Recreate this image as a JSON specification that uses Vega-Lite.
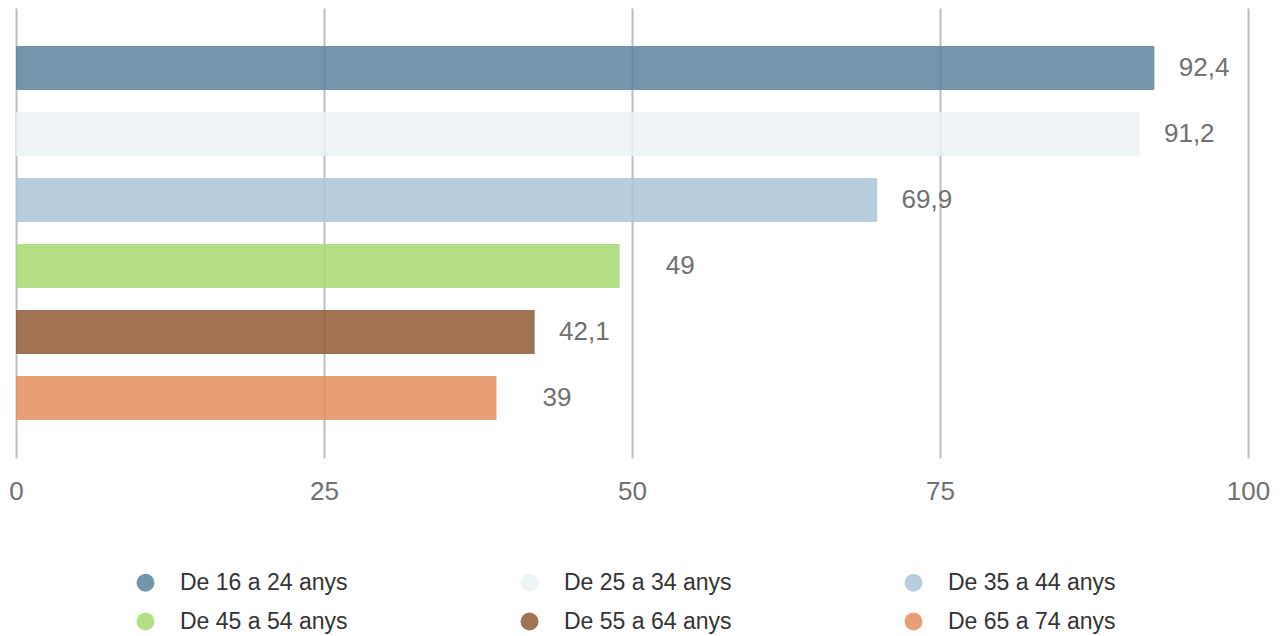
{
  "$schema": "https://vega.github.io/schema/vega-lite/v6.json",
  "width": 1232,
  "height": 450,
  "autosize": {"type": "none"},
  "padding": {"left": 16, "top": 8, "right": 39, "bottom": 178},
  "background": "white",
  "config": {
    "view": {"stroke": null},
    "font": "Liberation Sans"
  },
  "data": {
    "values": [
      {"group": "De 16 a 24 anys", "value": 92.4, "label": "92,4"},
      {"group": "De 25 a 34 anys", "value": 91.2, "label": "91,2"},
      {"group": "De 35 a 44 anys", "value": 69.9, "label": "69,9"},
      {"group": "De 45 a 54 anys", "value": 49, "label": "49"},
      {"group": "De 55 a 64 anys", "value": 42.1, "label": "42,1"},
      {"group": "De 65 a 74 anys", "value": 39, "label": "39"}
    ]
  },
  "encoding": {
    "y": {
      "field": "group",
      "type": "nominal",
      "sort": null,
      "axis": null,
      "scale": {"paddingInner": 0.333, "paddingOuter": 0.576}
    }
  },
  "layer": [
    {
      "mark": {"type": "bar", "opacity": 0.85},
      "encoding": {
        "x": {
          "field": "value",
          "type": "quantitative",
          "scale": {"domain": [0, 100], "nice": false},
          "axis": {
            "values": [0, 25, 50, 75, 100],
            "title": null,
            "domain": false,
            "ticks": false,
            "grid": true,
            "gridColor": "#bdbdc2",
            "gridWidth": 2,
            "gridOpacity": 1,
            "labelFlush": false,
            "labelFontSize": 26,
            "labelColor": "#707070",
            "labelPadding": 20,
            "labelFont": "Liberation Sans"
          }
        },
        "color": {
          "field": "group",
          "type": "nominal",
          "scale": {
            "domain": ["De 16 a 24 anys", "De 25 a 34 anys", "De 35 a 44 anys", "De 45 a 54 anys", "De 55 a 64 anys", "De 65 a 74 anys"],
            "range": ["#5b829b", "#ebf1f4", "#a8c4d6", "#a4d970", "#8f5a36", "#e48e5d"]
          },
          "legend": {
            "orient": "none",
            "legendX": 118,
            "legendY": 563,
            "direction": "horizontal",
            "columns": 3,
            "title": null,
            "symbolType": "circle",
            "symbolSize": 324,
            "symbolStrokeWidth": 0,
            "symbolOpacity": 0.85,
            "labelFontSize": 23,
            "labelColor": "#333333",
            "labelOffset": 23,
            "labelLimit": 400,
            "columnPadding": 170,
            "rowPadding": 15,
            "labelFont": "Liberation Sans"
          }
        }
      }
    },
    {
      "mark": {"type": "text", "align": "right", "baseline": "middle", "dx": 75, "fontSize": 26, "color": "#707070"},
      "encoding": {
        "x": {"field": "value", "type": "quantitative"},
        "text": {"field": "label", "type": "nominal"}
      }
    }
  ]
}
